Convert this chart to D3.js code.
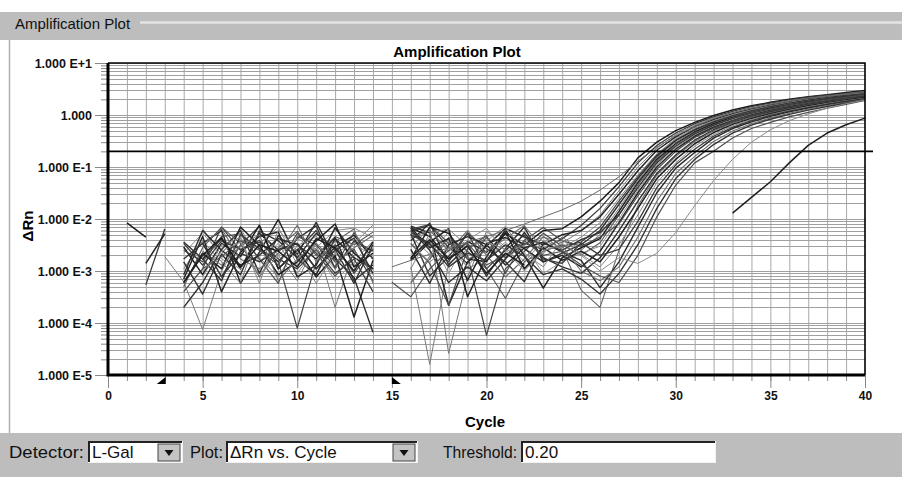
<!DOCTYPE html>
<html>
<head>
<meta charset="utf-8">
<script src="https://cdn.jsdelivr.net/npm/d3@7"></script>
<style>
  html, body { margin: 0; padding: 0; background: #fff; }
  svg { display: block; }
  text { font-family: "Liberation Sans", Arial, sans-serif; }
</style>
</head>
<body>
<svg id="chart" width="902" height="477"></svg>
<script>
// ---------------------------------------------------------------
// Amplification data: ΔRn per cycle (cycles 1..40) for each well.
// null = value not plotted on the log axis (≤ 0 after baseline).
// ---------------------------------------------------------------
const _ = null;
const cycles = [1,2,3,4,5,6,7,8,9,10,11,12,13,14,15,16,17,18,19,20,
                21,22,23,24,25,26,27,28,29,30,31,32,33,34,35,36,37,38,39,40];

const wellA = [8.4e-3,4.5e-3,_,_,1.7e-3,4.2e-3,1.1e-3,5.3e-3,2.5e-3,3.4e-3,
               1.1e-3,2.9e-3,4.9e-3,1.7e-3,_,6.8e-3,4.6e-3,1.7e-3,3.7e-3,2.3e-3,
               5.2e-3,3.2e-3,6.0e-3,6.5e-3,0.011,0.022,0.05,0.15,0.30,0.50,
               0.72,0.98,1.25,1.50,1.75,2.00,2.25,2.45,2.70,2.95];
const wellB = [_,5.4e-4,6.4e-3,_,_,7.7e-4,3.2e-3,7.2e-3,1.1e-3,2.5e-3,
               6.0e-3,1.5e-3,2.6e-3,6.5e-4,_,5.8e-3,7.6e-3,2.8e-3,1.4e-3,4.5e-3,
               1.8e-3,3.4e-3,2.6e-3,4.2e-3,7.5e-3,0.016,0.042,0.12,0.26,0.45,
               0.68,0.92,1.18,1.45,1.70,1.95,2.20,2.40,2.60,2.85];
const wellC = [_,_,1.9e-3,6.2e-4,7.5e-5,1.0e-3,4.3e-3,1.8e-3,7.7e-4,3.1e-3,
               4.6e-3,2.2e-3,1.2e-3,3.4e-3,_,1.2e-3,1.6e-5,1.4e-3,2.6e-3,4.3e-3,
               1.7e-3,3.2e-3,4.5e-3,3.5e-3,5.8e-3,0.012,0.035,0.10,0.23,0.42,
               0.64,0.88,1.12,1.38,1.62,1.88,2.10,2.32,2.55,2.80];
const wellD = [_,1.4e-3,5.2e-3,_,3.4e-3,6.0e-3,5.8e-4,2.3e-3,9.8e-3,1.7e-3,
               8.5e-4,4.2e-3,1.8e-3,1.1e-3,_,7.3e-3,5.4e-3,2.2e-4,1.5e-3,3.0e-3,
               6.6e-3,4.5e-3,3.2e-3,5.0e-3,6.0e-3,0.011,0.030,0.085,0.21,0.38,
               0.60,0.82,1.06,1.30,1.55,1.80,2.05,2.25,2.45,2.70];
const wellE = [_,_,_,2.2e-3,5.3e-3,2.1e-3,6.7e-3,1.5e-3,3.4e-3,9.0e-4,
               2.8e-3,6.0e-3,6.7e-3,4.4e-3,_,4.6e-3,2.1e-3,5.6e-3,1.1e-3,1.7e-3,
               3.6e-3,1.5e-3,3.8e-3,2.8e-3,4.5e-3,8.5e-3,0.025,0.070,0.18,0.35,
               0.56,0.78,1.02,1.26,1.50,1.75,1.98,2.20,2.42,2.65];
const wellF = [_,_,_,4.0e-4,1.1e-3,7.0e-3,2.5e-3,3.9e-3,1.5e-3,8.0e-5,
               1.5e-3,3.2e-3,9.0e-4,2.7e-3,_,6.4e-3,7.8e-3,3.4e-3,2.0e-3,5.8e-5,
               1.1e-3,2.4e-3,5.3e-3,3.0e-3,3.6e-3,7.0e-3,0.022,0.065,0.17,0.33,
               0.53,0.75,0.98,1.22,1.46,1.70,1.94,2.16,2.38,2.60];
const wellG = [_,_,_,2.0e-4,6.0e-4,2.6e-3,6.0e-3,9.0e-4,4.8e-3,2.1e-3,
               8.6e-3,1.7e-3,7.5e-4,6.6e-5,_,3.8e-3,8.3e-3,1.3e-3,3.2e-3,8.0e-4,
               2.7e-3,7.0e-3,1.5e-3,2.2e-3,3.2e-3,6.0e-3,0.019,0.060,0.16,0.32,
               0.51,0.72,0.95,1.18,1.42,1.66,1.90,2.12,2.34,2.58];
const wellH = [_,_,_,1.1e-3,3.8e-3,1.5e-3,5.8e-4,6.4e-3,2.0e-3,6.5e-4,
               3.4e-3,2.0e-4,2.5e-3,8.5e-4,_,2.9e-3,6.8e-3,2.6e-5,7.7e-4,5.8e-3,
               2.9e-3,1.1e-3,2.2e-3,4.5e-3,2.5e-3,5.0e-3,0.016,0.055,0.15,0.30,
               0.49,0.70,0.92,1.15,1.38,1.62,1.86,2.08,2.30,2.52];
const wellI = [_,_,_,2.9e-3,8.5e-4,3.4e-3,1.9e-3,7.6e-3,1.1e-3,2.6e-3,
               7.7e-4,2.0e-3,1.3e-4,1.6e-3,_,1.6e-3,3.6e-3,6.5e-3,3.2e-4,1.9e-3,
               6.1e-3,2.0e-3,4.7e-4,1.8e-3,2.8e-3,4.2e-3,0.014,0.050,0.14,0.28,
               0.47,0.68,0.90,1.12,1.35,1.58,1.82,2.04,2.26,2.48];
const wellJ = [_,_,_,5.0e-4,2.8e-3,7.0e-3,3.4e-3,7.7e-4,2.8e-3,5.8e-3,
               2.0e-3,4.6e-3,3.2e-3,5.6e-3,_,6.0e-4,1.7e-3,4.4e-3,2.4e-3,1.1e-3,
               3.0e-4,1.5e-3,2.4e-3,3.2e-3,2.0e-3,3.5e-3,0.012,0.045,0.13,0.27,
               0.45,0.65,0.87,1.10,1.32,1.55,1.78,2.00,2.22,2.45];
const wellK = [_,_,_,3.6e-3,1.7e-3,6.5e-4,5.0e-3,2.7e-3,1.5e-3,4.2e-3,
               7.4e-3,1.1e-3,3.8e-3,2.4e-3,_,5.2e-3,8.0e-4,1.9e-3,5.3e-3,2.7e-3,
               1.5e-3,6.2e-4,3.4e-3,2.5e-3,4.0e-3,5.5e-3,0.012,0.040,0.12,0.25,
               0.43,0.63,0.84,1.06,1.28,1.50,1.74,1.96,2.18,2.40];
const wellL = [_,_,_,_,6.6e-3,1.7e-3,1.1e-3,3.4e-3,7.0e-3,1.3e-3,
               2.4e-3,6.5e-4,1.5e-3,3.8e-3,_,1.8e-3,4.4e-3,9.0e-4,4.0e-3,6.6e-3,
               2.4e-3,3.0e-3,9.0e-4,1.5e-3,2.2e-3,3.0e-3,0.010,0.036,0.11,0.24,
               0.41,0.60,0.81,1.03,1.25,1.47,1.70,1.92,2.14,2.36];
const wellM = [_,_,_,7.0e-4,4.6e-3,4.0e-4,2.3e-3,4.6e-3,5.6e-3,7.7e-4,
               1.3e-3,6.8e-3,2.2e-3,1.1e-3,_,6.8e-3,2.8e-3,4.2e-3,6.6e-4,3.4e-3,
               4.4e-3,2.7e-3,1.5e-3,2.0e-3,1.2e-3,2.4e-3,8.5e-3,0.032,0.10,0.22,
               0.39,0.58,0.78,1.00,1.22,1.44,1.66,1.88,2.10,2.32];
const wellN = [_,_,_,2.5e-3,1.5e-3,4.6e-3,5.2e-3,1.7e-3,5.8e-4,4.6e-3,
               3.2e-3,1.2e-3,5.5e-3,1.7e-3,_,3.4e-3,1.4e-3,2.2e-4,2.7e-3,4.8e-3,
               9.0e-4,3.9e-3,6.9e-3,3.8e-3,3.0e-3,4.5e-3,8.0e-3,0.028,0.09,0.20,
               0.37,0.56,0.76,0.97,1.19,1.41,1.63,1.85,2.07,2.28];
const wellO = [_,_,_,1.5e-3,3.6e-4,2.1e-3,8.5e-4,5.8e-3,3.8e-3,1.8e-3,
               5.3e-3,2.6e-3,5.8e-4,3.2e-3,_,6.2e-3,2.5e-3,6.0e-4,1.2e-3,6.5e-4,
               1.7e-3,5.5e-3,1.8e-3,1.2e-3,9.0e-4,1.8e-3,6.0e-3,0.022,0.075,0.17,
               0.33,0.52,0.72,0.93,1.14,1.36,1.58,1.80,2.02,2.24];
const wellP = [_,_,_,_,3.2e-3,6.4e-3,1.7e-3,1.1e-3,2.2e-3,7.6e-3,
               1.5e-3,3.7e-3,6.4e-3,5.8e-4,_,4.3e-3,6.1e-3,2.4e-3,6.0e-3,2.0e-3,
               7.7e-4,1.7e-3,4.6e-3,2.6e-3,4.3e-4,2.0e-4,2.5e-3,0.018,0.070,0.16,
               0.31,0.50,0.70,0.90,1.10,1.32,1.54,1.76,1.98,2.20];
const wellQ = [_,_,_,6.0e-4,2.2e-3,1.1e-3,7.0e-3,3.1e-3,8.5e-4,1.5e-3,
               3.8e-3,8.0e-3,1.2e-3,2.2e-3,_,1.7e-3,7.0e-3,5.3e-3,1.7e-3,1.5e-3,
               5.6e-3,1.1e-3,2.8e-3,1.6e-3,2.4e-3,1.5e-3,4.5e-3,0.016,0.060,0.14,
               0.28,0.46,0.66,0.86,1.06,1.28,1.50,1.72,1.94,2.16];
const wellR = [_,_,_,_,7.7e-4,3.2e-3,4.4e-3,5.8e-4,6.2e-3,2.4e-3,
               5.8e-4,2.2e-3,3.4e-3,7.6e-3,_,1.1e-3,5.3e-3,6.4e-3,3.0e-3,3.8e-3,
               7.2e-3,2.2e-3,1.2e-3,4.0e-3,2.1e-3,1.2e-3,3.2e-3,0.012,0.050,0.12,
               0.25,0.42,0.62,0.82,1.02,1.23,1.45,1.67,1.89,2.10];
const wellS = [_,_,_,3.4e-3,1.3e-3,3.8e-3,2.6e-3,3.6e-3,1.7e-3,1.1e-3,
               2.6e-3,9.0e-4,1.7e-3,4.0e-4,_,5.0e-3,3.2e-3,1.5e-3,5.4e-3,1.1e-3,
               2.5e-3,4.9e-3,1.7e-3,1.4e-3,3.5e-3,2.0e-3,2.6e-3,9.0e-3,0.040,0.11,
               0.22,0.39,0.58,0.78,0.98,1.19,1.40,1.62,1.84,2.06];
const wellT = [_,_,_,8.5e-4,6.0e-3,2.5e-3,1.3e-3,2.0e-3,4.2e-3,3.2e-3,
               1.7e-3,4.4e-3,6.5e-4,1.3e-3,_,2.6e-3,5.8e-4,3.2e-3,4.6e-3,3.2e-3,
               1.3e-3,2.8e-3,3.6e-3,2.3e-3,1.6e-3,4.8e-4,1.5e-3,7.0e-3,0.032,0.095,
               0.19,0.36,0.55,0.74,0.94,1.15,1.36,1.58,1.80,2.02];
const wellU = [_,_,_,_,2.4e-3,1.3e-3,3.0e-3,5.0e-3,6.5e-4,1.7e-3,
               3.4e-3,1.5e-3,2.8e-3,4.8e-3,_,5.8e-4,1.9e-3,3.6e-3,1.7e-3,2.4e-3,
               4.2e-3,7.5e-3,2.5e-3,3.0e-3,1.0e-3,6.5e-4,1.2e-3,4.5e-3,0.022,0.075,
               0.16,0.31,0.49,0.68,0.88,1.08,1.30,1.52,1.74,1.98];
const wellV = [_,_,_,1.7e-3,3.4e-3,7.7e-4,2.2e-3,1.5e-3,2.6e-3,3.4e-3,
               1.1e-3,2.5e-3,4.3e-3,9.0e-4,_,5.5e-3,3.4e-3,1.2e-3,2.2e-3,1.6e-3,
               3.2e-3,1.9e-3,8.5e-4,1.1e-3,7.0e-4,3.6e-4,9.0e-4,3.2e-3,0.016,0.060,
               0.14,0.27,0.45,0.64,0.83,1.03,1.24,1.46,1.68,1.95];
const wellW = [_,_,_,_,1.1e-3,1.9e-3,3.8e-3,2.5e-3,1.3e-3,5.3e-3,
               2.2e-3,8.0e-4,2.0e-3,_,6.1e-4,3.2e-4,1.1e-3,2.5e-3,3.4e-3,1.3e-3,
               2.0e-3,3.8e-3,2.0e-3,2.4e-3,1.3e-3,8.0e-4,6.0e-4,2.0e-3,0.011,0.045,
               0.12,0.20,0.36,0.55,0.72,0.92,1.12,1.35,1.60,1.90];
const wellX = [_,_,_,_,1.0e-3,2.4e-3,3.6e-3,8.0e-4,2.0e-3,4.2e-3,
               2.6e-3,1.1e-3,3.4e-3,1.9e-3,_,3.2e-3,1.5e-3,2.8e-3,1.2e-3,3.6e-3,
               2.6e-3,1.0e-3,2.4e-3,3.4e-3,2.0e-3,1.0e-3,1.8e-3,1.4e-3,2.2e-3,5.5e-3,
               0.018,0.055,0.14,0.30,0.52,0.78,1.05,1.35,1.65,1.95];
const wellY = [_,_,_,6.0e-4,2.0e-3,4.4e-3,1.2e-3,3.2e-3,2.4e-3,1.2e-3,
               4.2e-3,2.8e-3,1.0e-3,3.6e-3,_,1.8e-3,4.0e-3,1.7e-3,3.0e-3,9.0e-4,
               2.2e-3,1.3e-3,_,_,_,_,_,_,_,_,
               _,_,0.013,0.026,0.052,0.12,0.26,0.45,0.65,0.87];
const wellZ = [_,_,_,_,_,_,_,_,_,_,
               _,_,_,_,1.2e-3,1.6e-3,2.1e-3,2.8e-3,3.6e-3,4.6e-3,
               6.0e-3,8.0e-3,0.011,0.015,0.022,0.036,0.065,0.13,0.24,0.40,
               0.60,0.85,1.10,1.35,1.60,1.85,2.10,2.30,2.50,2.70];

const wells = [wellA, wellB, wellC, wellD, wellE, wellF, wellG, wellH, wellI,
               wellJ, wellK, wellL, wellM, wellN, wellO, wellP, wellQ, wellR,
               wellS, wellT, wellU, wellV, wellW, wellX, wellY, wellZ];

// Axis settings
const xDomain = [0, 40];
const yDomain = [1e-5, 10];
const xTickValues = [0, 5, 10, 15, 20, 25, 30, 35, 40];
const yTickValues = [1e-5, 1e-4, 1e-3, 1e-2, 1e-1, 1, 10];
const yTickLabels = ["1.000 E-5", "1.000 E-4", "1.000 E-3", "1.000 E-2",
                     "1.000 E-1", "1.000", "1.000 E+1"];
const threshold = 0.20;
const baselineStart = 3;
const baselineEnd = 15;

// Trace shade and weight per well (greyscale print-out)
const traceColors = ["#1c1c1c", "#3a3a3a", "#7a7a7a", "#252525", "#8a8a8a", "#444444",
                     "#2e2e2e", "#777777", "#1f1f1f", "#555555", "#333333", "#909090",
                     "#262626", "#4a4a4a", "#303030", "#666666", "#202020", "#858585",
                     "#3c3c3c", "#2a2a2a", "#6e6e6e", "#353535", "#505050", "#8c8c8c",
                     "#1e1e1e", "#6a6a6a"];
const traceWidths = [1.5, 1.3, 1.0, 1.5, 1.0, 1.2, 1.4, 1.0, 1.5, 1.1, 1.4, 1.0, 1.5,
                     1.2, 1.4, 1.1, 1.5, 1.0, 1.3, 1.4, 1.1, 1.4, 1.2, 1.0, 1.5, 1.0];

// ---------------------------------------------------------------
const svg = d3.select("#chart");
const W = 902, H = 477;
const plot = { left: 108, right: 865, top: 63, bottom: 375 };

const x = d3.scaleLinear().domain(xDomain).range([plot.left, plot.right]);
const y = d3.scaleLog().domain(yDomain).range([plot.bottom, plot.top]);

// Window chrome: group box header strip
svg.append("rect").attr("x", 0).attr("y", 0).attr("width", W).attr("height", H).attr("fill", "#fff");
svg.append("rect").attr("x", 0).attr("y", 12).attr("width", W).attr("height", 28).attr("fill", "#bdbdbd");
svg.append("line").attr("x1", 140).attr("x2", W).attr("y1", 22.5).attr("y2", 22.5)
   .attr("stroke", "#e4e4e4").attr("stroke-width", 2.5);
svg.append("text").attr("x", 15).attr("y", 29).attr("font-size", 15)
   .attr("fill", "#111").text("Amplification Plot");
svg.append("line").attr("x1", 9.5).attr("x2", 9.5).attr("y1", 40).attr("y2", 433)
   .attr("stroke", "#b0b0b0").attr("stroke-width", 1.5);

// Gridlines
const grid = svg.append("g");
grid.selectAll("line.v").data(d3.range(1, 40)).join("line")
  .attr("x1", d => x(d) + 0.5).attr("x2", d => x(d) + 0.5)
  .attr("y1", plot.top).attr("y2", plot.bottom)
  .attr("stroke", "#a8a8a8").attr("stroke-width", 1);
grid.selectAll("line.h").data(y.ticks()).join("line")
  .attr("x1", plot.left).attr("x2", plot.right)
  .attr("y1", d => Math.round(y(d)) + 0.5).attr("y2", d => Math.round(y(d)) + 0.5)
  .attr("stroke", "#a0a0a0").attr("stroke-width", 1);

// Axes (ticks only; bold axis lines drawn separately)
const tickColor = "#888";
const xMinor = svg.append("g").attr("transform", `translate(0,${plot.bottom})`)
  .call(d3.axisBottom(x).tickValues(d3.range(0, 41)).tickSize(6).tickFormat(""));
const xMajor = svg.append("g").attr("transform", `translate(0,${plot.bottom})`)
  .call(d3.axisBottom(x).tickValues(xTickValues).tickSize(13).tickPadding(3).tickFormat(d3.format("d")));
const yMinor = svg.append("g").attr("transform", `translate(${plot.left},0)`)
  .call(d3.axisLeft(y).tickValues(y.ticks()).tickSize(7).tickFormat(""));
const yMajor = svg.append("g").attr("transform", `translate(${plot.left},0)`)
  .call(d3.axisLeft(y).tickValues(yTickValues).tickSize(13).tickPadding(3)
        .tickFormat((d, i) => yTickLabels[i]));
[xMinor, xMajor, yMinor, yMajor].forEach(g => {
  g.select(".domain").remove();
  g.selectAll(".tick line").attr("stroke", tickColor);
  g.selectAll(".tick text").attr("fill", "#111").attr("font-weight", "bold")
    .attr("font-family", "'Liberation Sans', Arial, sans-serif");
});
xMajor.selectAll(".tick text").attr("font-size", 12);
yMajor.selectAll(".tick text").attr("font-size", 12.5).attr("dy", "0.36em");

// Amplification traces
const line = d3.line()
  .defined(d => d.v != null)
  .x(d => x(d.c))
  .y(d => y(d.v));
svg.append("g").selectAll("path").data(wells).join("path")
  .attr("d", w => line(w.map((v, i) => ({ c: cycles[i], v }))))
  .attr("fill", "none")
  .attr("stroke", (w, i) => traceColors[i])
  .attr("stroke-width", (w, i) => traceWidths[i])
  .attr("stroke-linejoin", "round");

// Threshold line
svg.append("line")
  .attr("x1", plot.left).attr("x2", plot.right + 8)
  .attr("y1", y(threshold)).attr("y2", y(threshold))
  .attr("stroke", "#000").attr("stroke-width", 1.6);

// Plot frame
svg.append("path")
  .attr("d", `M${plot.left},${plot.top}H${plot.right}V${plot.bottom}`)
  .attr("fill", "none").attr("stroke", "#000").attr("stroke-width", 1.6);
svg.append("path")
  .attr("d", `M${plot.left},${plot.top}V${plot.bottom}H${plot.right}`)
  .attr("fill", "none").attr("stroke", "#000").attr("stroke-width", 3);

// Baseline range markers
const xs = x(baselineStart), xe = x(baselineEnd);
svg.append("path").attr("d", `M${xs - 8},${plot.bottom + 9}L${xs + 1},${plot.bottom + 9}L${xs + 1},${plot.bottom + 2}Z`)
   .attr("fill", "#000");
svg.append("path").attr("d", `M${xe},${plot.bottom + 2}L${xe},${plot.bottom + 9}L${xe + 9},${plot.bottom + 9}Z`)
   .attr("fill", "#000");

// Titles
svg.append("text").attr("x", 457).attr("y", 57).attr("text-anchor", "middle")
   .attr("font-size", 15).attr("font-weight", "bold").text("Amplification Plot");
svg.append("text").attr("x", 485).attr("y", 427).attr("text-anchor", "middle")
   .attr("font-size", 15).attr("font-weight", "bold").text("Cycle");
svg.append("text").attr("transform", "translate(33,226) rotate(-90)")
   .attr("text-anchor", "middle").attr("font-size", 15).attr("font-weight", "bold").text("ΔRn");

// Control bar
const bar = svg.append("g");
const barTop = 433, boxTop = 441, boxH = 22, textY = 458;
bar.append("rect").attr("x", 0).attr("y", barTop).attr("width", W).attr("height", H - barTop).attr("fill", "#bdbdbd");
function label(xp, txt, len) {
  bar.append("text").attr("x", xp).attr("y", textY).attr("font-size", 17)
     .attr("fill", "#111").attr("textLength", len).attr("lengthAdjust", "spacingAndGlyphs")
     .text(txt);
}
function box(x0, x1, txt, withButton) {
  const yb = boxTop + boxH;
  bar.append("rect").attr("x", x0).attr("y", boxTop).attr("width", x1 - x0).attr("height", boxH)
     .attr("fill", "#fff");
  bar.append("path").attr("d", `M${x0 + 1},${yb}V${boxTop + 1}H${x1}`)
     .attr("fill", "none").attr("stroke", "#222").attr("stroke-width", 2);
  bar.append("path").attr("d", `M${x0},${yb - 0.5}H${x1 - 0.5}V${boxTop}`)
     .attr("fill", "none").attr("stroke", "#f2f2f2").attr("stroke-width", 1);
  bar.append("text").attr("x", x0 + 4).attr("y", textY).attr("font-size", 17)
     .attr("fill", "#111").text(txt);
  if (withButton) {
    const bx = x1 - 25;
    bar.append("rect").attr("x", bx).attr("y", boxTop + 3).attr("width", 22).attr("height", boxH - 5)
       .attr("fill", "#c4c4c4").attr("stroke", "#444").attr("stroke-width", 1);
    bar.append("path").attr("d", `M${bx + 6.5},${boxTop + 9}H${bx + 15.5}L${bx + 11},${boxTop + 15}Z`)
       .attr("fill", "#111");
  }
}
label(9, "Detector:", 75);
box(88, 183, "L-Gal", true);
label(190, "Plot:", 33);
box(226, 418, "ΔRn vs. Cycle", true);
label(443, "Threshold:", 74);
box(521, 716, "0.20", false);
</script>
</body>
</html>
